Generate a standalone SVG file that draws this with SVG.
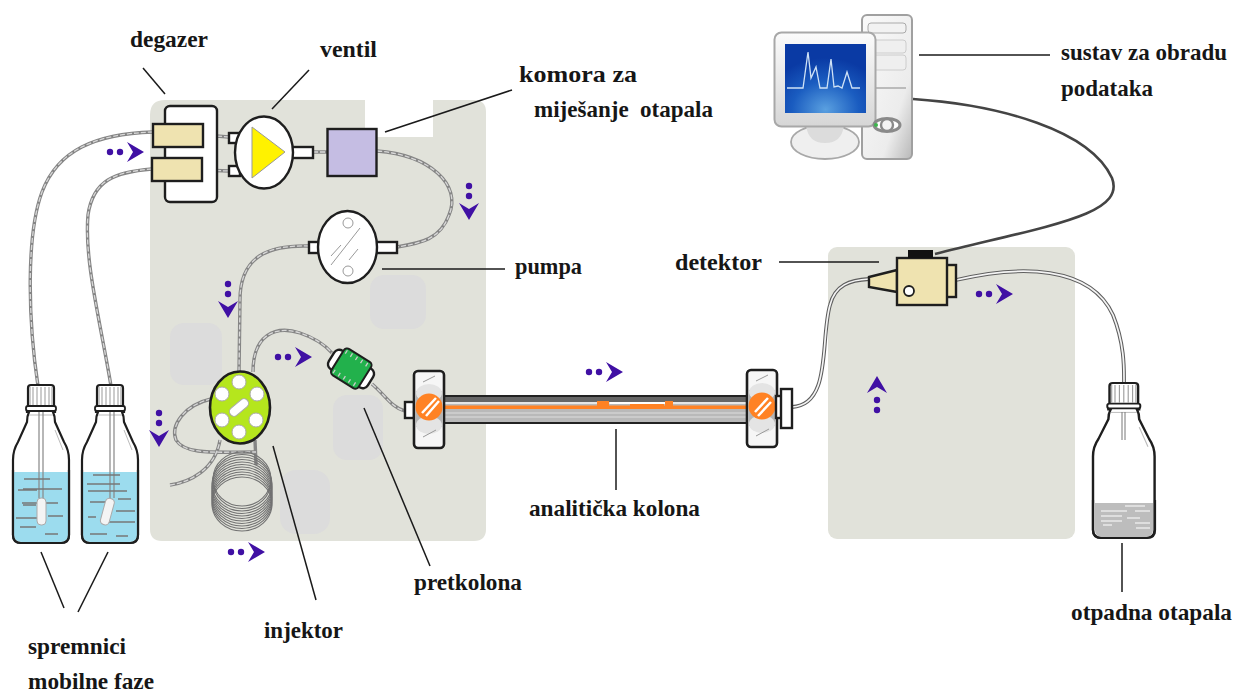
<svg xmlns="http://www.w3.org/2000/svg" width="1236" height="693" viewBox="0 0 1236 693">
<style>
.lb{font-family:"Liberation Serif","Times New Roman",serif;font-weight:700;font-size:23px;fill:#161616}
.panel{fill:#e1e2da}
.blob{fill:#dcdcdc}
.ld{fill:none;stroke:#1a1a1a;stroke-width:1.5}
.to{fill:none;stroke:#858585;stroke-width:3.4}
.ti{fill:none;stroke:#d8d8d8;stroke-width:1.3;stroke-dasharray:5 2}
.tw{fill:none;stroke:#5e5e5e;stroke-width:3.8}
.twi{fill:none;stroke:#f4f4f4;stroke-width:1.7}
.wh{fill:#fff;stroke:#1e1e1e;stroke-width:2.4}
.cr{fill:#efe3b0;stroke:#1e1e1e;stroke-width:2.4}
.dt{fill:none;stroke:#999;stroke-width:1}
.lq{stroke:#777;stroke-width:1.4}
.fl{fill:#4010a4}
.org{fill:#ff8224}
.coil{fill:none;stroke:#727272;stroke-width:1.1}
.hat{fill:none;stroke:#999;stroke-width:1}
</style>
<defs>
<g id="flow" class="fl"><circle cx="0" cy="0" r="3.200"/><circle cx="10" cy="0" r="3.200"/><path d="M17,-10 L34,0 L17,10 L23,0Z"/></g>
<g id="bottleShape">
<path d="M0,150 L0,75 Q0,65 5,57 L14,37 Q14,31 16,27 L14,27 L14,25 Q14,22 15,21 L15,3 Q15,0 18,0 L38,0 Q41,0 41,3 L41,21 Q42,22 42,25 L42,27 L40,27 Q42,31 42,37 L51,57 Q56,65 56,75 L56,150 Q56,158 48,158 L8,158 Q0,158 0,150Z" fill="#fff" stroke="#1e1e1e" stroke-width="2.200"/>
<path d="M17,2 V20 M20,2 V20 M24,2 V20 M28,2 V20 M32,2 V20 M36,2 V20 M39,2 V20" stroke="#999" stroke-width="1"/>
<rect x="13" y="21" width="30" height="5" rx="2" fill="#fff" stroke="#1e1e1e" stroke-width="1.800"/>
<path d="M16,30 H40" stroke="#bbb" stroke-width="1"/>
<path d="M42,45 L50,65" stroke="#bbb" stroke-width="1" fill="none"/>
</g>
<radialGradient id="scr" cx=".5" cy=".95" r=".75"><stop offset="0" stop-color="#5aa0e0"/><stop offset=".55" stop-color="#1a5cc0"/><stop offset="1" stop-color="#0a3aa4"/></radialGradient>
<linearGradient id="twr" x1="0" y1="0" x2="1" y2="1"><stop offset="0" stop-color="#fafafa"/><stop offset=".7" stop-color="#ececec"/><stop offset="1" stop-color="#b8b8b8"/></linearGradient>
<linearGradient id="mon" x1="0" y1="0" x2="0" y2="1"><stop offset="0" stop-color="#fbfbfb"/><stop offset="1" stop-color="#d6d6d6"/></linearGradient>
<g id="fit">
<rect x="0" y="0" width="30" height="77" rx="4" fill="#f6f6f6" stroke="#1e1e1e" stroke-width="2.600"/>
<rect x="1.500" y="20" width="27" height="36" fill="#b4b4b4"/>
<ellipse cx="15" cy="22" rx="13" ry="9" fill="#e4e4e4"/>
<ellipse cx="15" cy="54" rx="13" ry="9" fill="#e4e4e4"/>
<circle cx="15" cy="36" r="13.500" class="org"/>
<path class="hat" d="M9,11 L21,5 M9,66 L22,59"/>
</g>
</defs>
<rect width="1236" height="693" fill="#fff"/>

<g id="panels">
<path class="panel" d="M165,100 H474 Q486,100 486,112 V529 Q486,541 474,541 H162 Q150,541 150,529 V115 Q150,100 165,100Z"/>
<rect x="365" y="98" width="68" height="39" fill="#fff"/>
<rect class="blob" x="170" y="323" width="52" height="62" rx="14"/>
<rect class="blob" x="333" y="395" width="50" height="65" rx="14"/>
<rect class="blob" x="280" y="470" width="50" height="64" rx="16"/>
<rect class="blob" x="370" y="275" width="56" height="54" rx="14"/>
<rect class="panel" x="828" y="247" width="247" height="292" rx="9"/>
</g>

<g id="connectors">
<g id="tubes-outer" class="to">
<path d="M153,132 C95,134 58,150 42,192 C26,235 28,320 38,386"/>
<path d="M152,169 C115,172 93,180 88,215 C84,260 100,320 111,386"/>
<path d="M203,135 L229,137 M202,170 L229,171 M313,152 L327,152"/>
<path d="M377,151 C430,155 462,185 449,215 C440,240 420,243 397,247"/>
<path d="M309,246 C270,245 240,255 240,300 L239,372"/>
<path d="M253,372 C253,335 275,325 300,333 C315,338 325,345 332,353"/>
<path d="M372,384 C385,395 392,408 405,411"/>
<path d="M211,399 C185,405 170,425 176,440 C185,455 215,452 256,452"/>
<path d="M170,485 C190,482 215,470 220,440"/>
<path d="M255,440 L256,465"/>
</g>
<g id="tubes-inner" class="ti">
<path d="M153,132 C95,134 58,150 42,192 C26,235 28,320 38,386"/>
<path d="M152,169 C115,172 93,180 88,215 C84,260 100,320 111,386"/>
<path d="M203,135 L229,137 M202,170 L229,171 M313,152 L327,152"/>
<path d="M377,151 C430,155 462,185 449,215 C440,240 420,243 397,247"/>
<path d="M309,246 C270,245 240,255 240,300 L239,372"/>
<path d="M253,372 C253,335 275,325 300,333 C315,338 325,345 332,353"/>
<path d="M372,384 C385,395 392,408 405,411"/>
<path d="M211,399 C185,405 170,425 176,440 C185,455 215,452 256,452"/>
<path d="M170,485 C190,482 215,470 220,440"/>
</g>
<path class="tw" d="M792,407 C832,405 820,340 830,305 C835,285 850,280 869,279"/>
<path class="twi" d="M792,407 C832,405 820,340 830,305 C835,285 850,280 869,279"/>
<path class="tw" d="M956,280 C1020,265 1090,265 1113,315 C1125,345 1124,370 1124,384"/>
<path class="twi" d="M956,280 C1020,265 1090,265 1113,315 C1125,345 1124,370 1124,384"/>
<path id="cable" d="M913,99 C1000,105 1090,130 1112,178 C1126,215 1050,225 935,254" fill="none" stroke="#444" stroke-width="2.600"/>
<g id="leaders" class="ld">
<path d="M143,68 L165,94"/>
<path d="M272,109 L309,70"/>
<path d="M385,132 L512,90"/>
<path d="M919,55 L1050,55"/>
<path d="M382,269 L505,269"/>
<path d="M779,262 L879,262"/>
<path d="M616,429 L616,490"/>
<path d="M364,408 L430,566"/>
<path d="M273,446 L316,600"/>
<path d="M1122,543 L1122,592"/>
<path d="M41,552 L64,608"/>
<path d="M108,552 L78,612"/>
</g>
<g id="flow-arrows">
<use href="#flow" transform="translate(110,152)"/>
<use href="#flow" transform="translate(469,186) rotate(90)"/>
<use href="#flow" transform="translate(228,284) rotate(90)"/>
<use href="#flow" transform="translate(278,357)"/>
<use href="#flow" transform="translate(159,413) rotate(90)"/>
<use href="#flow" transform="translate(231,552)"/>
<use href="#flow" transform="translate(589,372)"/>
<use href="#flow" transform="translate(979,294)"/>
<use href="#flow" transform="translate(877,410) rotate(-90)"/>
</g>
</g>

<g id="degazer">
<rect class="wh" x="165" y="106" width="52" height="96" rx="5"/>
<rect class="cr" x="153" y="124" width="50" height="23"/>
<rect class="cr" x="152" y="158" width="50" height="23"/>
</g>

<g id="ventil">
<rect class="wh" x="229" y="133" width="11" height="10"/>
<rect class="wh" x="229" y="166" width="11" height="10"/>
<rect class="wh" x="290" y="147" width="23" height="11"/>
<ellipse class="wh" cx="264" cy="152.500" rx="29" ry="36"/>
<path d="M252,127 L285,152 L252,178Z" fill="#fff200" stroke="#999" stroke-width="1"/>
</g>

<g id="komora">
<rect x="327.500" y="129" width="49" height="47" fill="#c5bde3" stroke="#1e1e1e" stroke-width="2.400"/>
</g>

<g id="pumpa">
<rect class="wh" x="309" y="242" width="12" height="11"/>
<rect class="wh" x="374" y="242" width="23" height="11"/>
<ellipse class="wh" cx="347.500" cy="247" rx="29.500" ry="36"/>
<circle class="dt" cx="348" cy="223" r="5"/>
<circle class="dt" cx="348" cy="271" r="5"/>
<path class="dt" d="M331,265 L360,228 M331,256 L341,245 M349,260 L358,249"/>
</g>

<g id="injektor">
<g id="coil" class="coil">
<ellipse cx="242" cy="479" rx="29" ry="27"/><ellipse cx="242" cy="481.500" rx="29" ry="27"/><ellipse cx="242" cy="484" rx="30" ry="27"/><ellipse cx="242" cy="486.500" rx="30" ry="27"/><ellipse cx="242" cy="489" rx="30" ry="27"/><ellipse cx="242" cy="491.500" rx="30" ry="27"/><ellipse cx="242" cy="494" rx="30" ry="27"/><ellipse cx="242" cy="496.500" rx="30" ry="27"/><ellipse cx="242" cy="499" rx="30" ry="27"/><ellipse cx="242" cy="501.500" rx="30" ry="27"/><ellipse cx="242" cy="504" rx="30" ry="27"/>
</g>
<ellipse cx="240" cy="407.500" rx="30" ry="36" fill="#b5e61d" stroke="#1e1e1e" stroke-width="2.600"/>
<g fill="#fff" stroke="#aaa" stroke-width="1">
<circle cx="239" cy="382" r="7"/><circle cx="222" cy="394" r="7"/><circle cx="257" cy="394" r="7"/><circle cx="222" cy="420" r="7"/><circle cx="256" cy="420" r="7"/><circle cx="239" cy="432" r="7"/>
<rect x="228" y="403" width="22" height="9" rx="4.500" transform="rotate(-40 239 407.500)"/>
</g>
</g>

<g id="pretkolona" transform="rotate(32 351 369)">
<rect class="wh" x="328" y="358" width="46" height="22" rx="6"/>
<rect x="335" y="353" width="32" height="31" rx="4" fill="#22b14c" stroke="#1e1e1e" stroke-width="2"/>
<path d="M338,355 V359 M344,355 V359 M350,355 V359 M356,355 V359 M362,355 V359 M338,378 V382 M344,378 V382 M350,378 V382 M356,378 V382 M362,378 V382" stroke="#ccc" stroke-width="1.300"/>
</g>

<g id="kolona">
<rect class="wh" x="405" y="402" width="9" height="16"/>
<rect x="444" y="396" width="303" height="27" fill="#b9b9b9" stroke="#222" stroke-width="2"/>
<rect x="445" y="397" width="301" height="5" fill="#666"/>
<rect x="445" y="402" width="301" height="2" fill="#e6e6e6"/>
<rect x="445" y="405.500" width="301" height="3.500" class="org"/>
<path d="M445,413 H746 M445,417 H746" stroke="#ddd" stroke-width="1"/>
<rect x="597" y="401" width="12" height="6" class="org"/><rect x="630" y="404" width="34" height="4" class="org"/><rect x="665" y="401" width="8" height="6" class="org"/><rect x="610" y="402" width="55" height="2" fill="#fff"/>
<use href="#fit" transform="translate(414,371)"/>
<use href="#fit" transform="translate(747,370)"/>
<rect class="wh" x="776" y="396" width="6" height="22"/>
<rect class="wh" x="781" y="389" width="11" height="39"/>
<g stroke="#fff" stroke-width="2.500" fill="none"><path d="M422,413 L436,398 M426,416 L439,401"/><path d="M755,412 L768,398 M758,416 L771,402"/></g>
</g>

<g id="detektor">
<path d="M897,270 L869,277 V287 L897,292Z" class="cr"/>
<rect class="cr" x="945" y="265" width="11" height="32"/>
<rect class="cr" x="897" y="258" width="50" height="47"/>
<rect x="908" y="250" width="25" height="8" fill="#111"/>
<circle cx="909" cy="291" r="5" fill="#fff" stroke="#1e1e1e" stroke-width="1.800"/>
</g>

<g id="racunalo">
<rect x="862" y="15" width="50" height="144" rx="5" fill="url(#twr)" stroke="#a0a0a0" stroke-width="2"/>
<rect x="868" y="23" width="38" height="10" rx="3" fill="#f2f2f2" stroke="#aaa"/>
<rect x="868" y="40" width="38" height="13" rx="3" fill="#efefef" stroke="#ccc"/>
<rect x="868" y="55" width="38" height="15" rx="3" fill="#efefef" stroke="#ccc"/>
<path d="M876,88 H906" stroke="#bbb" stroke-width="2"/>
<ellipse cx="825" cy="142" rx="34" ry="17" fill="#efefef" stroke="#a8a8a8" stroke-width="1.800"/>
<path d="M806,125 Q808,143 825,143 Q842,143 844,125Z" fill="#dcdcdc"/>
<rect x="774.500" y="32.500" width="101" height="94" rx="7" fill="url(#mon)" stroke="#a8a8a8" stroke-width="2"/>
<rect x="785" y="44" width="81" height="69" fill="url(#scr)"/>
<polyline points="787,88 803,88 808,52 811,78 816,67 820,88 827,88 831,59 834,87 838,86 842,88 847,72 852,88 860,88" fill="none" stroke="#cfe2f6" stroke-width="1.300"/>
<ellipse cx="887" cy="125" rx="13" ry="6.500" fill="#fff" stroke="#8a8a8a" stroke-width="3"/>
<circle cx="887" cy="125" r="6" fill="#f4f4f4" stroke="#8a8a8a" stroke-width="2.400"/>
<circle cx="876" cy="125" r="2" fill="#3cb44b"/>
</g>

<g id="spremnik-1">
<use href="#bottleShape" transform="translate(13,385)"/>
<path d="M14,472 H68 V535 Q68,542 60,542 L22,542 Q14,542 14,535Z" fill="#9cdcee"/>
<path d="M13,470 V535 Q13,543 21,543 H61 Q69,543 69,535 V470" fill="none" stroke="#1e1e1e" stroke-width="2.200"/>
<path d="M39,412 V498 M43,412 V498" stroke="#888" stroke-width="1.200" fill="none"/>
<path class="lq" d="M24,479 H50 M23,489 H62 M18,490 H37 M22,503 H58 M23,505 H36 M16,518 H45 M48,516 H63 M20,527 H36 M45,534 H58"/>
<rect x="37" y="498" width="9" height="27" rx="4" fill="#f4f4f4" stroke="#aaa"/>
</g>

<g id="spremnik-2">
<use href="#bottleShape" transform="translate(82,385)"/>
<path d="M83,472 H137 V535 Q137,542 129,542 L91,542 Q83,542 83,535Z" fill="#9cdcee"/>
<path d="M82,470 V535 Q82,543 90,543 H130 Q138,543 138,535 V470" fill="none" stroke="#1e1e1e" stroke-width="2.200"/>
<path d="M110,412 V498 M114,412 V498" stroke="#888" stroke-width="1.200" fill="none"/>
<path class="lq" d="M93,475 H120 M87,484 H120 M88,491 H127 M90,502 H108 M118,499 H131 M116,511 H135 M88,517 H96 M107,522 H135 M90,534 H107 M116,536 H128"/>
<rect x="103" y="498" width="9" height="27" rx="4" fill="#f4f4f4" stroke="#aaa" transform="rotate(15 107 511)"/>
</g>

<g id="otpad">
<g transform="translate(1093,383) scale(1.100,0.980)"><use href="#bottleShape"/></g>
<path d="M1095,503 H1153 V530 Q1153,537 1146,537 L1102,537 Q1095,537 1095,530Z" fill="#bdbdbd"/>
<path d="M1093,500 V530 Q1093,538 1101,538 H1147 Q1155,538 1155,530 V500" fill="none" stroke="#1e1e1e" stroke-width="2.200"/>
<path d="M1122,412 V440 M1125,412 V440" stroke="#777" stroke-width="1"/>
<path stroke="#fff" stroke-width="1.200" d="M1125,506 H1145 M1101,511 H1127 M1135,511 H1150 M1101,516 H1122 M1127,518 H1140 M1101,521 H1122 M1135,523 H1150 M1103,525 H1112 M1136,528 H1150"/>
</g>

<g id="labels">
<text class="lb" x="130" y="47" textLength="78" lengthAdjust="spacingAndGlyphs">degazer</text>
<text class="lb" x="320" y="57" textLength="57" lengthAdjust="spacingAndGlyphs">ventil</text>
<text class="lb" x="519" y="82" textLength="118" lengthAdjust="spacingAndGlyphs">komora za</text>
<text class="lb" x="534" y="117" textLength="179" lengthAdjust="spacingAndGlyphs" xml:space="preserve">miješanje  otapala</text>
<text class="lb" x="1061" y="60" textLength="166" lengthAdjust="spacingAndGlyphs">sustav za obradu</text>
<text class="lb" x="1061" y="96" textLength="92" lengthAdjust="spacingAndGlyphs">podataka</text>
<text class="lb" x="515" y="274" textLength="67" lengthAdjust="spacingAndGlyphs">pumpa</text>
<text class="lb" x="675" y="270" textLength="87" lengthAdjust="spacingAndGlyphs">detektor</text>
<text class="lb" x="529" y="516" textLength="171" lengthAdjust="spacingAndGlyphs">analitička kolona</text>
<text class="lb" x="414" y="590" textLength="108" lengthAdjust="spacingAndGlyphs">pretkolona</text>
<text class="lb" x="264" y="638" textLength="79" lengthAdjust="spacingAndGlyphs">injektor</text>
<text class="lb" x="1071" y="620" textLength="161" lengthAdjust="spacingAndGlyphs">otpadna otapala</text>
<text class="lb" x="28" y="654" textLength="98" lengthAdjust="spacingAndGlyphs">spremnici</text>
<text class="lb" x="28" y="689" textLength="126" lengthAdjust="spacingAndGlyphs">mobilne faze</text>
</g>
</svg>
